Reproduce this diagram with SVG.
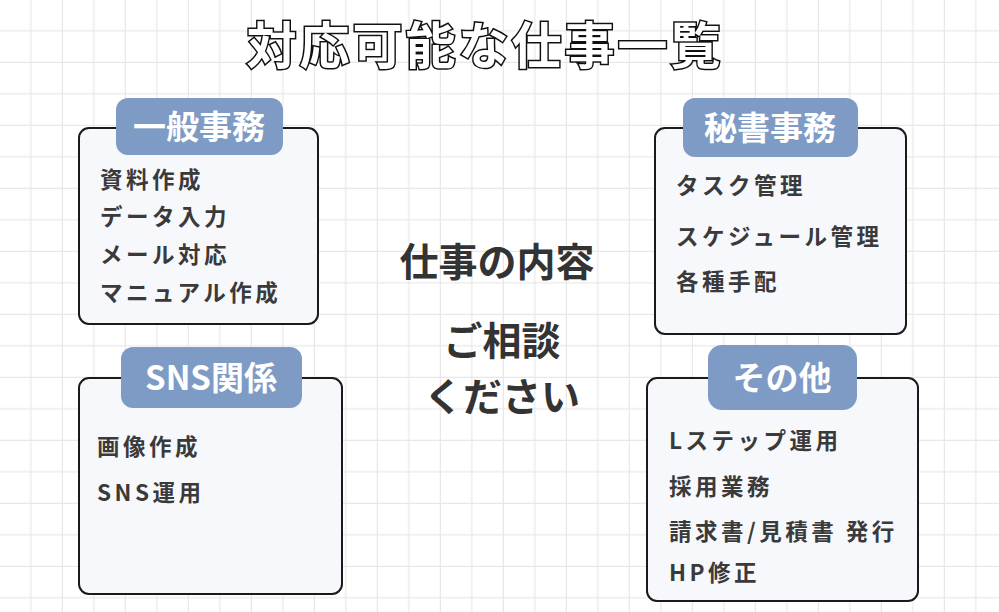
<svg xmlns="http://www.w3.org/2000/svg" width="999" height="612" viewBox="0 0 999 612">
<defs>
<pattern id="grid" x="0" y="0" width="31.5" height="31.5" patternUnits="userSpaceOnUse">
<path d="M31.5 0V31.5M0 31.5H31.5" stroke="#e8e8e8" stroke-width="2.5" fill="none"/>
</pattern>
<style>
text{font-family:"Noto Sans CJK JP","Noto Sans",sans-serif;font-weight:bold}
.box{fill:#f7f8fc;stroke:#1a1a1a;stroke-width:2}
.pill{fill:#7e9bc5}
.lbl{fill:#fff;font-size:33px;text-anchor:middle}
.item{fill:#3a3a3a;font-size:22.5px;letter-spacing:3.5px}
.mid{fill:#333;font-size:39px;text-anchor:middle}
</style>
</defs>
<rect width="999" height="612" fill="#fff"/>
<rect width="999" height="612" fill="url(#grid)"/>
<text x="485" y="64" font-size="50" text-anchor="middle" fill="#fff" stroke="#111" stroke-width="3" paint-order="stroke" letter-spacing="3">対応可能な仕事一覧</text>
<g id="general">
<rect class="box" x="79" y="128" width="239" height="196" rx="10"/>
<rect class="pill" x="116" y="98" width="167" height="57" rx="12"/>
<text class="lbl" x="199" y="139">一般事務</text>
<text class="item" x="100" y="188">資料作成</text>
<text class="item" x="100" y="225">データ入力</text>
<text class="item" x="100" y="263">メール対応</text>
<text class="item" x="100" y="301">マニュアル作成</text>
</g>
<g id="secretary">
<rect class="box" x="655" y="128" width="251" height="206" rx="10"/>
<rect class="pill" x="683" y="98" width="175" height="59" rx="12"/>
<text class="lbl" x="770" y="140">秘書事務</text>
<text class="item" x="676" y="194">タスク管理</text>
<text class="item" x="676" y="245">スケジュール管理</text>
<text class="item" x="676" y="290">各種手配</text>
</g>
<g id="sns">
<rect class="box" x="79" y="378" width="263" height="216" rx="10"/>
<rect class="pill" x="121" y="347" width="181" height="61" rx="12"/>
<text class="lbl" x="211" y="390">SNS関係</text>
<text class="item" x="97" y="455">画像作成</text>
<text class="item" x="97" y="501">SNS運用</text>
</g>
<g id="other">
<rect class="box" x="647" y="378" width="271" height="223" rx="10"/>
<rect class="pill" x="708" y="345" width="149" height="65" rx="14"/>
<text class="lbl" x="782" y="390">その他</text>
<text class="item" x="669" y="449">Lステップ運用</text>
<text class="item" x="669" y="495">採用業務</text>
<text class="item" x="669" y="540">請求書/見積書 発行</text>
<text class="item" x="669" y="581">HP修正</text>
</g>
<g id="center">
<text class="mid" x="497" y="276">仕事の内容</text>
<text class="mid" x="502" y="355">ご相談</text>
<text class="mid" x="502" y="411">ください</text>
</g>
<g id="connectors"/>
</svg>
